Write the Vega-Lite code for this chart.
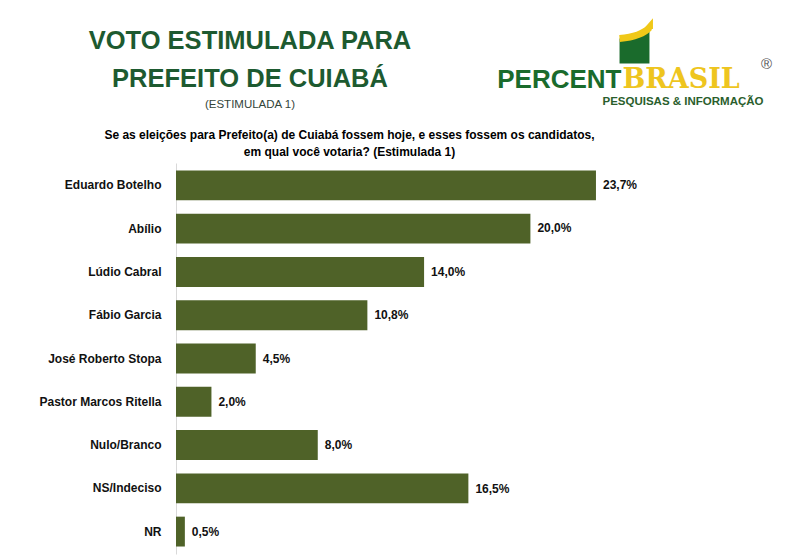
{
  "$schema": "https://vega.github.io/schema/vega-lite/v6.json",
  "autosize": {"type": "none"},
  "width": 623,
  "height": 391,
  "padding": {"left": 176, "top": 163, "right": 0, "bottom": 2},
  "background": "white",
  "config": {
    "view": {"stroke": null},
    "locale": {"number": {"decimal": ",", "thousands": ".", "grouping": [3], "currency": ["R$", ""]}},
    "font": "Liberation Sans, Arial, sans-serif"
  },
  "title": {
    "text": ["VOTO ESTIMULADA PARA", "PREFEITO DE CUIABÁ"],
    "subtitle": "(ESTIMULADA 1)",
    "anchor": "start",
    "frame": "group",
    "align": "center",
    "dx": 74,
    "dy": 90,
    "font": "Liberation Sans, Arial, sans-serif",
    "fontSize": 25.5,
    "fontWeight": "bold",
    "lineHeight": 38,
    "color": "#1d5a30",
    "subtitleFont": "Liberation Sans, Arial, sans-serif",
    "subtitleFontSize": 11.5,
    "subtitleColor": "#33453a",
    "subtitlePadding": 6,
    "offset": 0
  },
  "data": {
    "values": [
      {"nome": "Eduardo Botelho", "valor": 0.237},
      {"nome": "Abílio", "valor": 0.200},
      {"nome": "Lúdio Cabral", "valor": 0.140},
      {"nome": "Fábio Garcia", "valor": 0.108},
      {"nome": "José Roberto Stopa", "valor": 0.045},
      {"nome": "Pastor Marcos Ritella", "valor": 0.020},
      {"nome": "Nulo/Branco", "valor": 0.080},
      {"nome": "NS/Indeciso", "valor": 0.165},
      {"nome": "NR", "valor": 0.005}
    ]
  },
  "layer": [
    {
      "mark": {"type": "bar", "fill": "#4f6228"},
      "encoding": {
        "y": {
          "field": "nome", "type": "nominal", "sort": null,
          "scale": {"paddingInner": 0.31, "paddingOuter": 0.173},
          "axis": {
            "orient": "left",
            "ticks": false,
            "domainColor": "#d9d9d9",
            "domainWidth": 1,
            "labelPadding": 15,
            "labelFontSize": 12,
            "labelFontWeight": "bold",
            "labelColor": "#111111",
            "labelFont": "Liberation Sans, Arial, sans-serif",
            "title": "PESQUISAS & INFORMAÇÃO",
            "titleAngle": 0,
            "titleX": 587,
            "titleY": -59,
            "titleAlign": "right",
            "titleBaseline": "alphabetic",
            "titleFont": "Liberation Sans, sans-serif",
            "titleFontSize": 11.5,
            "titleFontWeight": "bold",
            "titleColor": "#2a5e2c"
          }
        },
        "x": {
          "field": "valor", "type": "quantitative",
          "scale": {"domain": [0, 0.35158], "nice": false, "zero": true},
          "axis": {
            "orient": "top",
            "labels": false, "ticks": false, "domain": false, "grid": false,
            "title": ["Se as eleições para Prefeito(a) de Cuiabá fossem hoje, e esses fossem os candidatos,", "em qual você votaria? (Estimulada 1)"],
            "titleX": 173,
            "titleY": -25,
            "titleAlign": "center",
            "titleBaseline": "alphabetic",
            "titleLineHeight": 17,
            "titleFont": "Liberation Sans, Arial, sans-serif",
            "titleFontSize": 12,
            "titleFontWeight": "bold",
            "titleColor": "#000000"
          }
        },
        "color": {
          "datum": "PercentBrasil",
          "scale": {"range": ["#1a6b2c"]},
          "legend": {
            "orient": "none",
            "legendX": 433,
            "legendY": -143,
            "padding": 0,
            "title": "®",
            "titleOrient": "right",
            "titlePadding": 97,
            "titleAnchor": "end",
            "titleBaseline": "bottom",
            "titleFont": "Liberation Sans, sans-serif",
            "titleFontSize": 15,
            "titleFontWeight": "normal",
            "titleColor": "#555555",
            "symbolType": "M-0.68,-0.32 Q0.32,-0.41 0.68,-0.82 L0.68,0.82 L-0.68,0.82 Z",
            "symbolSize": 1936,
            "labelExpr": "''",
            "encode": {
              "title": {"update": {"dy": {"value": -6}}},
              "symbols": {
                "update": {
                  "fill": {"value": "#1a6b2c"},
                  "fillOpacity": {"value": 1},
                  "stroke": {"value": "#f0c818"},
                  "strokeWidth": {"value": 7},
                  "strokeDash": {"value": [34, 400]},
                  "opacity": {"value": 1}
                }
              }
            }
          }
        }
      }
    },
    {
      "mark": {"type": "text", "align": "left", "baseline": "middle", "dx": 7, "fontWeight": "bold", "fontSize": 12, "color": "#111111", "font": "Liberation Sans, Arial, sans-serif"},
      "encoding": {
        "y": {
          "field": "nome", "type": "nominal", "sort": null,
          "scale": {"paddingInner": 0.31, "paddingOuter": 0.173},
          "axis": {
            "orient": "right",
            "labels": false, "ticks": false, "domain": false, "grid": false,
            "title": "BRASIL",
            "titleAngle": 0,
            "titleX": -177,
            "titleY": -76,
            "titleAlign": "left",
            "titleBaseline": "alphabetic",
            "titleFont": "DejaVu Serif, Liberation Serif, serif",
            "titleFontSize": 27,
            "titleFontWeight": "bold",
            "titleColor": "#eec51f"
          }
        },
        "x": {
          "field": "valor", "type": "quantitative",
          "scale": {"domain": [0, 0.35158], "nice": false, "zero": true},
          "axis": {
            "orient": "bottom",
            "labels": false, "ticks": false, "domain": false, "grid": false,
            "title": "PERCENT",
            "titleX": 445,
            "titleY": -467,
            "titleAlign": "right",
            "titleBaseline": "alphabetic",
            "titleFont": "Liberation Sans, Arial, sans-serif",
            "titleFontSize": 26,
            "titleFontWeight": "bold",
            "titleColor": "#1a6b2c"
          }
        },
        "text": {"field": "valor", "type": "quantitative", "format": ".1%"}
      }
    }
  ],
  "resolve": {
    "scale": {"x": "independent", "y": "independent"},
    "axis": {"x": "independent", "y": "independent"}
  }
}
